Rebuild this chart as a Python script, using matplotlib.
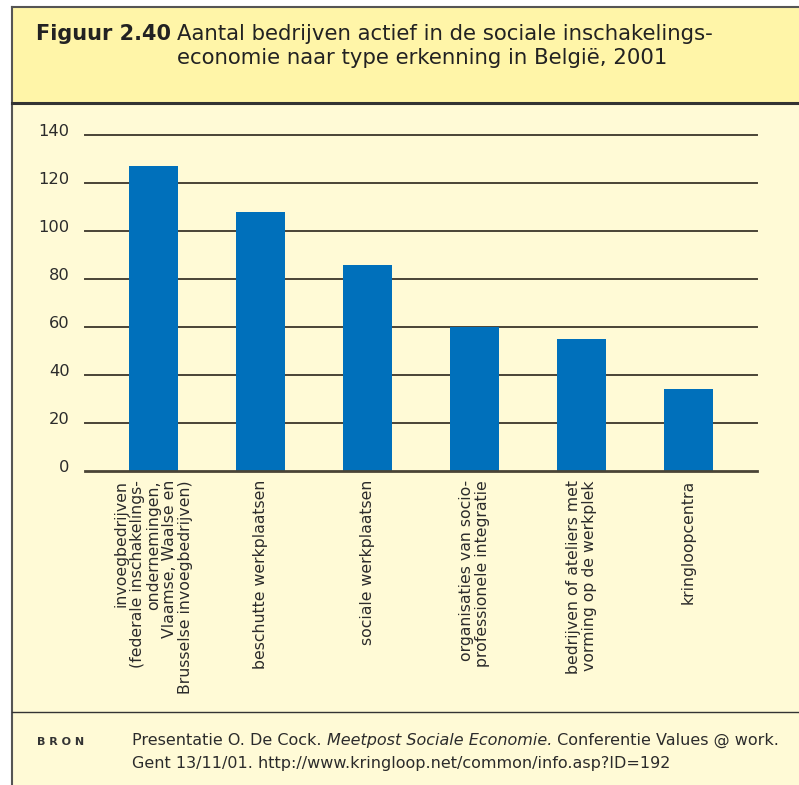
import matplotlib
matplotlib.use("Agg")
import matplotlib.pyplot as plt
from matplotlib.patches import Rectangle
from matplotlib.lines import Line2D
import matplotlib.transforms as mtransforms

# gegevens
categorieen = [
    "invoegbedrijven\n(federale inschakelings-\nondernemingen,\nVlaamse, Waalse en\nBrusselse invoegbedrijven)",
    "beschutte werkplaatsen",
    "sociale werkplaatsen",
    "organisaties van socio-\nprofessionele integratie",
    "bedrijven of ateliers met\nvorming op de werkplek",
    "kringloopcentra",
]
aantallen = [127, 108, 86, 60, 55, 34]
yticks = [0, 20, 40, 60, 80, 100, 120, 140]

W, H = 799, 785
fig = plt.figure(figsize=(W / 100, H / 100), dpi=100)
fig.patch.set_facecolor("white")

def fx(px):
    return px / W

def fy(py):
    return 1 - py / H

# achtergrond kaders
fig.patches.append(Rectangle((fx(12), fy(785)), 1, fy(102) - fy(785),
                             transform=fig.transFigure, facecolor="#fffad6", edgecolor="none", zorder=-2))
fig.patches.append(Rectangle((fx(12), fy(102)), 1, fy(7) - fy(102),
                             transform=fig.transFigure, facecolor="#fff5a8", edgecolor="none", zorder=-2))
for xs, ys, c, lw in [([fx(12), 1], [fy(7), fy(7)], "#555555", 1.5),
                      ([fx(12), fx(12)], [0, fy(7)], "#555555", 1.5),
                      ([fx(12), 1], [fy(102.5), fy(102.5)], "#333333", 2.2),
                      ([fx(12), 1], [fy(712), fy(712)], "#333333", 1.0)]:
    fig.lines.append(Line2D(xs, ys, transform=fig.transFigure, color=c, lw=lw, zorder=-1))

# grafiek
ax = fig.add_axes([fx(85), fy(471), fx(757) - fx(85), fy(135) - fy(471)])
ax.set_facecolor("none")
x = list(range(len(aantallen)))
ax.bar(x, aantallen, width=0.46, color="#0070bb", zorder=3)
ax.set_xlim(-0.64, len(aantallen) - 0.36)
ax.set_ylim(0, 140)
ax.set_yticks(yticks)
for v in yticks:
    ax.axhline(v, color="#4a4436", lw=1.4 if v else 2.0, zorder=2 if v else 4, clip_on=False)
for s in ax.spines.values():
    s.set_visible(False)
ax.tick_params(axis="y", length=0, pad=11, labelsize=11.7, labelcolor="#2b2b2b")
offset = mtransforms.ScaledTranslation(0, 5 / 100, fig.dpi_scale_trans)
for lab in ax.get_yticklabels():
    lab.set_transform(lab.get_transform() + offset)
ax.set_xticks(x)
ax.set_xticklabels([])
ax.tick_params(axis="x", length=0)
for xi, naam in zip(x, categorieen):
    ax.text(xi, -3.8, naam, rotation=90, ha="center", va="top", multialignment="right",
            fontsize=11.3, color="#2b2b2b", linespacing=1.1, clip_on=False)

# titel
renderer = fig.canvas.get_renderer()
t1 = fig.text(fx(36), fy(40), "Figuur 2.40", fontsize=15, fontweight="bold", color="#222222", va="baseline")
bb = t1.get_window_extent(renderer)
xt = bb.x1 / W + fx(6)
fig.text(xt, fy(40), "Aantal bedrijven actief in de sociale inschakelings-",
         fontsize=15.3, color="#222222", va="baseline")
fig.text(xt, fy(64), "economie naar type erkenning in België, 2001",
         fontsize=15.3, color="#222222", va="baseline")

# bron
fig.text(fx(37), fy(745), "B R O N", fontsize=8, fontweight="bold", color="#333333", va="baseline")
stukken = [("Presentatie O. De Cock. ", "normal"), ("Meetpost Sociale Economie.", "italic"),
           (" Conferentie Values @ work.", "normal")]
xpos = fx(132)
for tekst, stijl in stukken:
    t = fig.text(xpos, fy(745), tekst, fontsize=11.5, style=stijl, color="#2b2b2b", va="baseline")
    xpos = t.get_window_extent(renderer).x1 / W
fig.text(fx(132), fy(768), "Gent 13/11/01. http://www.kringloop.net/common/info.asp?ID=192",
         fontsize=11.5, color="#2b2b2b", va="baseline")

fig.savefig("out.png", dpi=100)
